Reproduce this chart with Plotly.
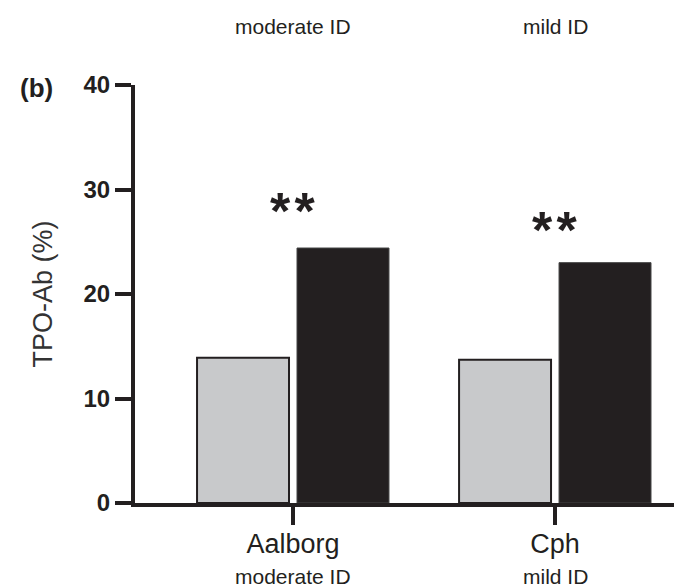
import plotly.graph_objects as go

categories = ["Aalborg", "Cph"]
sublabels = ["moderate ID", "mild ID"]
series_light = [13.9, 13.7]
series_dark = [24.4, 23.0]
y_ticks = [0, 10, 20, 30, 40]
star_labels = ["*\u200a*", "*\u200a*"]
star_y = [27.9, 26.1]

FONT = "Liberation Sans, Arial, sans-serif"
DARK = "#231f20"
GREY = "#c8c9cb"

fig = go.Figure()
fig.add_trace(go.Bar(x=[0, 1], y=series_light, marker=dict(color=GREY, line=dict(color=DARK, width=2)), showlegend=False))
fig.add_trace(go.Bar(x=[0, 1], y=series_dark, marker=dict(color=DARK, line=dict(color="#444", width=1)), showlegend=False))

anns = []
for i, s in enumerate(star_labels):
    anns.append(dict(x=i, y=star_y[i], xref="x", yref="y", text=s, showarrow=False,
                     font=dict(family=FONT, size=52, color=DARK, weight=600), yanchor="middle"))
for i, s in enumerate(sublabels):
    anns.append(dict(x=i, y=-0.177, xref="x", yref="paper", text=s, showarrow=False,
                     font=dict(family=FONT, size=21, color=DARK), yanchor="middle"))
    anns.append(dict(x=i, y=1.141, xref="x", yref="paper", text=s, showarrow=False,
                     font=dict(family=FONT, size=21, color=DARK), yanchor="middle"))
anns.append(dict(x=-0.182, y=0.993, xref="paper", yref="paper", text="<b>(b)</b>", showarrow=False,
                 font=dict(family=FONT, size=26, color=DARK), xanchor="center", yanchor="middle"))

fig.update_layout(
    width=674, height=587,
    margin=dict(l=135, r=0, t=85, b=84),
    paper_bgcolor="white", plot_bgcolor="white",
    barmode="group", bargap=0.237, bargroupgap=0.08,
    font=dict(family=FONT, color=DARK),
    annotations=anns,
    xaxis=dict(range=[-0.603, 1.454], tickvals=[0, 1], ticktext=categories,
               showline=True, linewidth=4, linecolor=DARK, ticks="outside", ticklen=18,
               tickwidth=4, tickcolor=DARK, showgrid=False, zeroline=False,
               ticklabelstandoff=-4,
               tickfont=dict(family=FONT, size=27, color=DARK)),
    yaxis=dict(range=[0, 40], tickvals=y_ticks, showline=True, linewidth=4, linecolor=DARK,
               ticks="outside", ticklen=16, tickwidth=4, tickcolor=DARK, showgrid=False,
               zeroline=False, tickfont=dict(family=FONT, size=24, color=DARK, weight="bold"),
               title=dict(text="TPO-Ab (%)", font=dict(family=FONT, size=27, color="#333"), standoff=24)),
)

fig.write_html("out.html")
